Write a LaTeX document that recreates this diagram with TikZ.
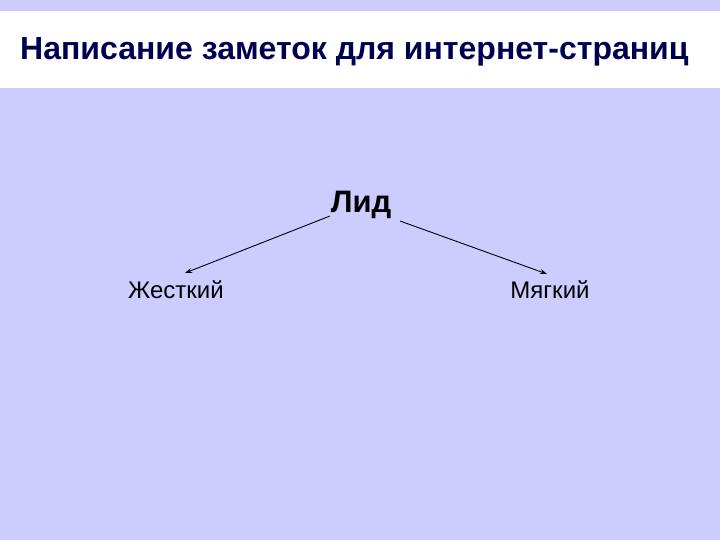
\documentclass[tikz,border=0pt]{standalone}
\usepackage{fontspec}
\setmainfont{Liberation Sans}
\usetikzlibrary{arrows.meta}
\begin{document}
\begin{tikzpicture}[x=1pt,y=-1pt,
  lbl/.style={inner sep=0pt,font=\fontsize{24}{28}\selectfont},
  arr/.style={-{Stealth[length=7pt,width=5pt]},line width=0.9pt}]
\fill[fill={rgb,255:red,204;green,204;blue,255}] (0,0) rectangle (720,540);
\useasboundingbox (0,0) rectangle (720,540);
\fill[white] (0,11) rectangle (720,88);
\node[anchor=west,inner sep=0pt,text={rgb,255:red,0;green,0;blue,80},font=\bfseries\fontsize{32}{38}\selectfont] (title) at (20,52) {Написание заметок для интернет-страниц};
\node[inner sep=0pt,font=\bfseries\fontsize{31}{36}\selectfont] (lid) at (361,205) {Лид};
\node[lbl] (h) at (176,290) {Жесткий};
\node[lbl] (m) at (550,290) {Мягкий};
\coordinate (a1) at (330,216);
\coordinate (a2) at (400,221);
\coordinate (e1) at (185,273);
\coordinate (e2) at (547,274);
\draw[arr] (a1) -- (e1);
\draw[arr] (a2) -- (e2);
\end{tikzpicture}
\end{document}
